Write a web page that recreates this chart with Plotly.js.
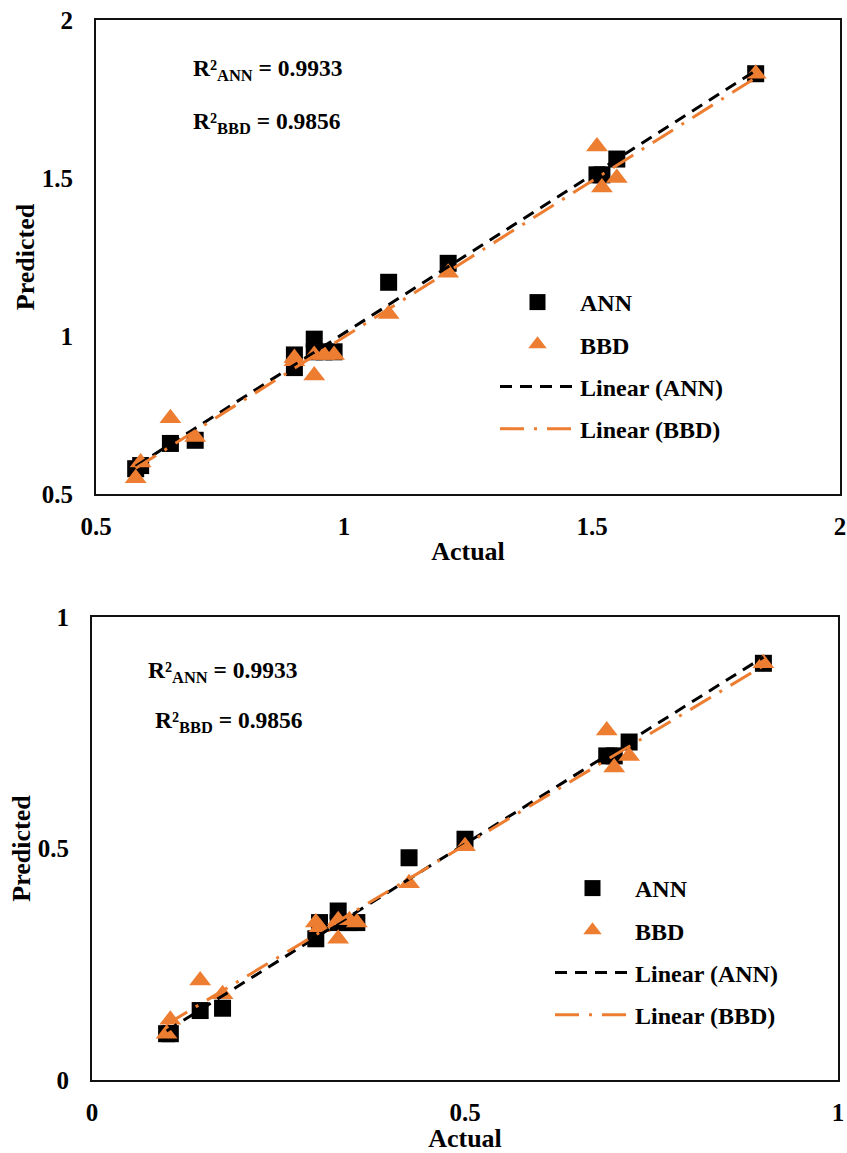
<!DOCTYPE html>
<html>
<head>
<meta charset="utf-8">
<script src="https://cdn.plot.ly/plotly-3.0.1.min.js"></script>
<style>
  html, body { margin: 0; padding: 0; background: #fff; }
  #chart { width: 847px; height: 1153px; }
</style>
</head>
<body>
<div id="chart"></div>
<script>
// ---------- Data: top panel ----------
var topActual = [0.58, 0.59, 0.65, 0.70, 0.90, 0.90, 0.94, 0.94, 0.96, 0.98, 1.09, 1.21, 1.51, 1.52, 1.55, 1.83];
var topANN    = [0.58, 0.59, 0.66, 0.67, 0.90, 0.94, 0.99, 0.95, 0.95, 0.95, 1.17, 1.23, 1.51, 1.51, 1.56, 1.83];
var topBBD    = [0.55, 0.60, 0.74, 0.68, 0.93, 0.92, 0.875, 0.94, 0.94, 0.94, 1.07, 1.20, 1.60, 1.47, 1.50, 1.83];
var topXTicks = [0.5, 1, 1.5, 2];
var topYTicks = [0.5, 1, 1.5, 2];

// ---------- Data: bottom panel ----------
var botActual = [0.10, 0.105, 0.145, 0.175, 0.30, 0.305, 0.33, 0.33, 0.345, 0.355, 0.425, 0.50, 0.69, 0.70, 0.72, 0.90];
var botANN    = [0.10, 0.10, 0.15, 0.155, 0.305, 0.34, 0.365, 0.34, 0.34, 0.34, 0.48, 0.52, 0.70, 0.70, 0.73, 0.90];
var botBBD    = [0.10, 0.13, 0.215, 0.185, 0.34, 0.33, 0.305, 0.345, 0.345, 0.34, 0.425, 0.505, 0.755, 0.675, 0.70, 0.90];
var botXTicks = [0, 0.5, 1];
var botYTicks = [0, 0.5, 1];

var seriesNames = ['ANN', 'BBD', 'Linear (ANN)', 'Linear (BBD)'];
var r2Labels = ['R²<sub>ANN</sub> = 0.9933', 'R²<sub>BBD</sub> = 0.9856'];

var ORANGE = '#ED7D31';
var FONT = '"Liberation Serif", "Times New Roman", serif';

function linfit(x, y) {
  var n = x.length, sx = 0, sy = 0, sxx = 0, sxy = 0;
  for (var i = 0; i < n; i++) { sx += x[i]; sy += y[i]; sxx += x[i]*x[i]; sxy += x[i]*y[i]; }
  var m = (n*sxy - sx*sy) / (n*sxx - sx*sx);
  var b = (sy - m*sx) / n;
  var x0 = Math.min.apply(null, x), x1 = Math.max.apply(null, x);
  return { x: [x0, x1], y: [m*x0 + b, m*x1 + b] };
}

function panelTraces(ax, annY, bbdY, xa, ya, leg) {
  var fa = linfit(ax, annY), fb = linfit(ax, bbdY);
  return [
    { x: ax, y: annY, xaxis: xa, yaxis: ya, legend: leg, legendgroup: leg + 'a', name: seriesNames[0],
      type: 'scatter', mode: 'markers', marker: { symbol: 'square', size: 17, color: '#000' } },
    { x: ax, y: bbdY, xaxis: xa, yaxis: ya, legend: leg, legendgroup: leg + 'b', name: seriesNames[1],
      type: 'scatter', mode: 'markers', marker: { symbol: 'triangle-up', size: 19, color: ORANGE } },
    { x: fa.x, y: fa.y, xaxis: xa, yaxis: ya, legend: leg, legendgroup: leg + 'c', name: seriesNames[2],
      type: 'scatter', mode: 'lines', line: { color: '#000', width: 3, dash: '12px,8px' } },
    { x: fb.x, y: fb.y, xaxis: xa, yaxis: ya, legend: leg, legendgroup: leg + 'd', name: seriesNames[3],
      type: 'scatter', mode: 'lines', line: { color: ORANGE, width: 3, dash: '24px,10px,3px,10px' } }
  ];
}

var data = [].concat(
  panelTraces(topActual, topANN, topBBD, 'x', 'y', 'legend'),
  panelTraces(botActual, botANN, botBBD, 'x2', 'y2', 'legend2')
);

var tickFont = { family: FONT, size: 25, color: '#000', weight: 'bold' };
var titleFont = { family: FONT, size: 26, color: '#000', weight: 'bold' };

function xAxis(domain, range, ticks, anchor) {
  return {
    domain: domain, range: range, anchor: anchor, tickvals: ticks, ticktext: ticks.map(String),
    showgrid: false, zeroline: false, showline: true, linecolor: '#111', linewidth: 2, mirror: true,
    ticks: 'outside', ticklen: 9, tickcolor: 'rgba(0,0,0,0)', tickfont: tickFont,
    title: { text: 'Actual', font: titleFont, standoff: 3 }
  };
}
function yAxis(domain, range, ticks, anchor) {
  return {
    domain: domain, range: range, anchor: anchor, tickvals: ticks, ticktext: ticks.map(String),
    showgrid: false, zeroline: false, showline: true, linecolor: '#111', linewidth: 2, mirror: true,
    ticks: 'outside', ticklen: 16, tickcolor: 'rgba(0,0,0,0)', tickfont: tickFont,
    title: { text: 'Predicted', font: titleFont, standoff: 0 }
  };
}

var legFont = { family: FONT, size: 24, color: '#000', weight: 'bold' };
var annFont = { family: FONT, size: 23.5, color: '#000', weight: 'bold' };

var layout = {
  width: 847, height: 1153,
  margin: { l: 0, r: 0, t: 0, b: 0 },
  paper_bgcolor: '#fff', plot_bgcolor: '#fff',
  showlegend: true,
  xaxis:  xAxis([96/847, 840/847], [0.5, 2], topXTicks, 'y'),
  yaxis:  yAxis([1 - 494/1153, 1 - 20/1153], [0.5, 2], topYTicks, 'x'),
  xaxis2: xAxis([92/847, 838/847], [0, 1], botXTicks, 'y2'),
  yaxis2: yAxis([1 - 1080/1153, 1 - 617/1153], [0, 1], botYTicks, 'x2'),
  legend: {
    x: 495/847, y: 1 - 280/1153, xanchor: 'left', yanchor: 'top',
    bgcolor: 'rgba(0,0,0,0)', font: legFont, itemwidth: 75, tracegroupgap: 8
  },
  legend2: {
    x: 550/847, y: 1 - 866/1153, xanchor: 'left', yanchor: 'top',
    bgcolor: 'rgba(0,0,0,0)', font: legFont, itemwidth: 75, tracegroupgap: 8
  },
  annotations: [
    { xref: 'paper', yref: 'paper', x: 191/847, y: 1 - 70/1153, xanchor: 'left', yanchor: 'middle',
      text: r2Labels[0], showarrow: false, font: annFont },
    { xref: 'paper', yref: 'paper', x: 191/847, y: 1 - 123/1153, xanchor: 'left', yanchor: 'middle',
      text: r2Labels[1], showarrow: false, font: annFont },
    { xref: 'paper', yref: 'paper', x: 146/847, y: 1 - 672/1153, xanchor: 'left', yanchor: 'middle',
      text: r2Labels[0], showarrow: false, font: annFont },
    { xref: 'paper', yref: 'paper', x: 153/847, y: 1 - 722/1153, xanchor: 'left', yanchor: 'middle',
      text: r2Labels[1], showarrow: false, font: annFont }
  ]
};

Plotly.newPlot('chart', data, layout, { staticPlot: true, displayModeBar: false });
</script>
</body>
</html>
